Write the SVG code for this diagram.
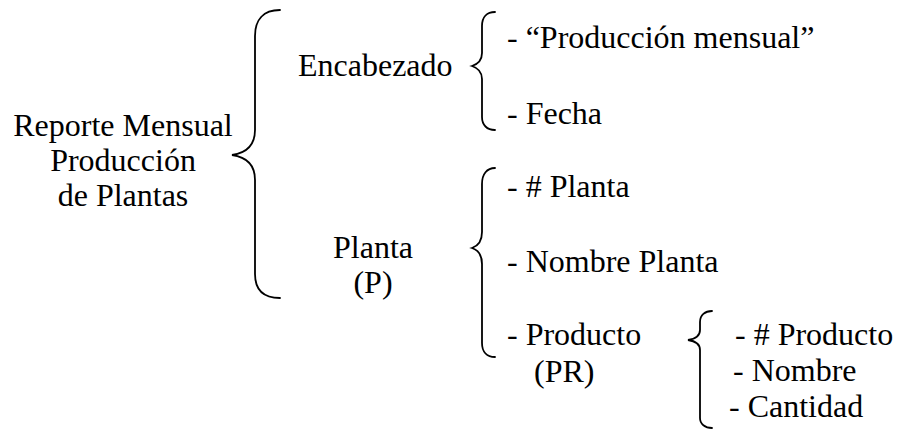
<svg xmlns="http://www.w3.org/2000/svg" width="899" height="429" viewBox="0 0 899 429">
<style>
text{font-family:'Liberation Serif','Times New Roman','DejaVu Serif',serif;font-size:32px;fill:#000}
.c{text-anchor:middle}
.brace{fill:none;stroke:#000;stroke-width:1.8;stroke-linecap:round}
</style>
<rect width="899" height="429" fill="#fff"/>
<g id="root">
<text class="c" x="123" y="136">Reporte Mensual</text>
<text class="c" x="123" y="171">Producción</text>
<text class="c" x="123" y="206">de Plantas</text>
</g>
<g id="encabezado">
<text x="298" y="76">Encabezado</text>
</g>
<g id="planta">
<text class="c" x="373" y="258">Planta</text>
<text class="c" x="373" y="293">(P)</text>
</g>
<g id="enc-items">
<text x="507" y="48">- “Producción mensual”</text>
<text x="507" y="124">- Fecha</text>
</g>
<g id="planta-items">
<text x="507" y="197">- # Planta</text>
<text x="507" y="272">- Nombre Planta</text>
<text x="507" y="345">- Producto</text>
<text x="534" y="382">(PR)</text>
</g>
<g id="producto-items">
<text x="735" y="345">- # Producto</text>
<text x="733" y="381">- Nombre</text>
<text x="729" y="417">- Cantidad</text>
</g>
<g id="connectors">
<path class="brace" d="M280,10 C263,10 255,20 255,36 L255,130 C255,145 246,153 232,155 C246,157 255,165 255,180 L255,274 C255,290 263,298 280,298"/>
<path class="brace" d="M495,12 C487,12 482,17 482,26 L482,53 C482,60 478,64 472,66 C478,68 482,72 482,79 L482,117 C482,125 487,130 495,130"/>
<path class="brace" d="M495,168 C487,168 482,174 482,184 L482,232 C482,241 478,246 472,248 C478,250 482,255 482,264 L482,343 C482,352 487,357 495,357"/>
<path class="brace" d="M712,311 C705,311 700,315 700,322 L700,330 C700,336 695,339 688,340 C695,341 700,344 700,350 L700,418 C700,424 705,428 712,428"/>
</g>
</svg>
